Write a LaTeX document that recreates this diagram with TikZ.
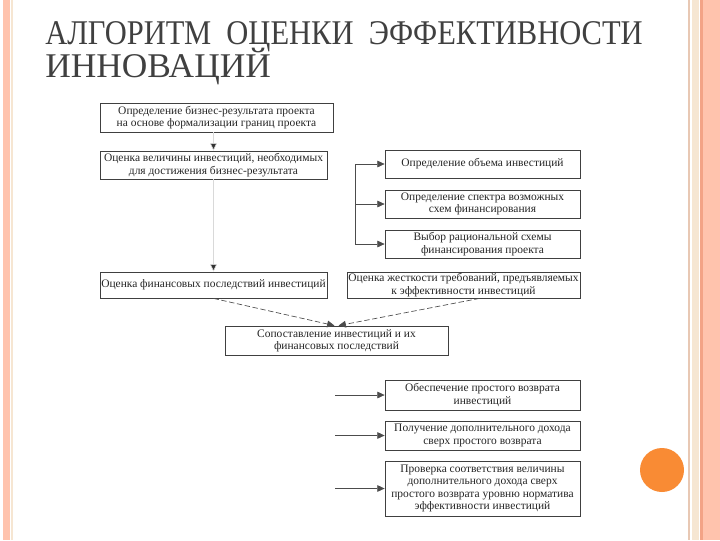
\documentclass[tikz,border=0pt]{standalone}
\usepackage{fontspec}
\setmainfont{Liberation Serif}
\newfontfamily\titlefontA[FakeStretch=0.88,WordSpace=2]{Liberation Serif}
\newfontfamily\titlefontB[FakeStretch=1.02]{Liberation Serif}
\usetikzlibrary{arrows.meta}
\definecolor{salmon}{HTML}{FFC3AD}
\definecolor{salmondk}{HTML}{F3A386}
\definecolor{creamline}{HTML}{F6E6D2}
\definecolor{tanline}{HTML}{E8C8B4}
\definecolor{orangedot}{HTML}{F98B34}
\definecolor{titlegray}{HTML}{404040}
\tikzset{
  titletext/.style={anchor=base west, inner sep=0pt, text=titlegray},
  box/.style={draw=black!75, line width=0.6pt, fill=white, align=center, inner sep=0pt,
    font=\fontsize{8.6pt}{9.2pt}\selectfont, text=black!85},
  arr/.style={line width=0.5pt, draw=black!70, -{Triangle[length=5.5pt,width=5pt]}},
  faint/.style={line width=0.4pt, draw=black!15, -{Triangle[length=5.5pt,width=5pt,fill=black!80]}},
  dashline/.style={line width=0.5pt, draw=black!70, dash pattern=on 4pt off 2pt, -{Triangle[length=5.5pt,width=5pt]}},
}
\begin{document}
\begin{tikzpicture}[x=0.75pt,y=-0.75pt]
\useasboundingbox (0,0) rectangle (720,540);
\fill[white] (0,0) rectangle (720,540);
% slide borders
\fill[salmon] (3,0) rectangle (10,540);
\fill[creamline] (11,0) rectangle (13,540);
\fill[tanline] (688,0) rectangle (690,540);
\fill[creamline] (692,0) rectangle (699,540);
\fill[salmondk] (700,0) rectangle (703,540);
\fill[salmon] (703,0) rectangle (720,540);
\fill[orangedot] (662,470) circle (22);
% title
\node[titletext, font=\titlefontA\fontsize{26pt}{26pt}\selectfont] (title1) at (45,44)
  {АЛГОРИТМ ОЦЕНКИ ЭФФЕКТИВНОСТИ};
\node[titletext, font=\titlefontB\fontsize{26pt}{26pt}\selectfont] (title2) at (45,77)
  {ИННОВАЦИЙ};
% boxes
\node[box, minimum width=233*0.75pt, minimum height=29*0.75pt] (b1) at (216.5,117.5)
  {Определение бизнес-результата проекта\\на основе формализации границ проекта};
\node[box, minimum width=227*0.75pt, minimum height=28*0.75pt] (b2) at (213.5,165)
  {Оценка величины инвестиций, необходимых\\для достижения бизнес-результата};
\node[box, minimum width=195*0.75pt, minimum height=28*0.75pt] (b3) at (482.5,164)
  {Определение объема инвестиций};
\node[box, minimum width=195*0.75pt, minimum height=28*0.75pt] (b4) at (482.5,204)
  {Определение спектра возможных\\схем финансирования};
\node[box, minimum width=195*0.75pt, minimum height=28*0.75pt] (b5) at (482.5,244)
  {Выбор рациональной схемы\\финансирования проекта};
\node[box, minimum width=227*0.75pt, minimum height=26*0.75pt] (b6) at (213.5,285)
  {Оценка финансовых последствий инвестиций};
\node[box, minimum width=233*0.75pt, minimum height=26*0.75pt] (b7) at (463.5,285)
  {Оценка жесткости требований, предъявляемых\\к эффективности инвестиций};
\node[box, minimum width=223*0.75pt, minimum height=29*0.75pt] (b8) at (336.5,340.5)
  {Сопоставление инвестиций и их\\финансовых последствий};
\node[box, minimum width=195*0.75pt, minimum height=30*0.75pt] (b9) at (482.5,395)
  {Обеспечение простого возврата\\инвестиций};
\node[box, minimum width=195*0.75pt, minimum height=29*0.75pt] (b10) at (482.5,435.5)
  {Получение дополнительного дохода\\сверх простого возврата};
\node[box, minimum width=195*0.75pt, minimum height=55*0.75pt] (b11) at (482.5,488.5)
  {Проверка соответствия величины\\дополнительного дохода сверх\\простого возврата уровню норматива\\эффективности инвестиций};
% connectors
\draw[faint] (b1.south -| b2.north) -- (b2.north);
\draw[faint] (b2.south) -- (b6.north);
\coordinate (vtop) at (355,164);
\coordinate (vmid) at (355,204);
\coordinate (vbot) at (355,244);
\draw[line width=0.5pt, draw=black!70] (vtop) -- (vbot);
\draw[arr] (vtop) -- (b3.west);
\draw[arr] (vmid) -- (b4.west);
\draw[arr] (vbot) -- (b5.west);
\draw[dashline] (b6.south) -- ([xshift=-1.5pt]b8.north);
\draw[dashline] ([xshift=12pt]b7.south) -- ([xshift=1.5pt]b8.north);
\coordinate (s9) at (335,395);
\coordinate (s10) at (335,435.5);
\coordinate (s11) at (335,488.5);
\draw[arr] (s9) -- (b9.west);
\draw[arr] (s10) -- (b10.west);
\draw[arr] (s11) -- (b11.west);
\end{tikzpicture}
\end{document}
